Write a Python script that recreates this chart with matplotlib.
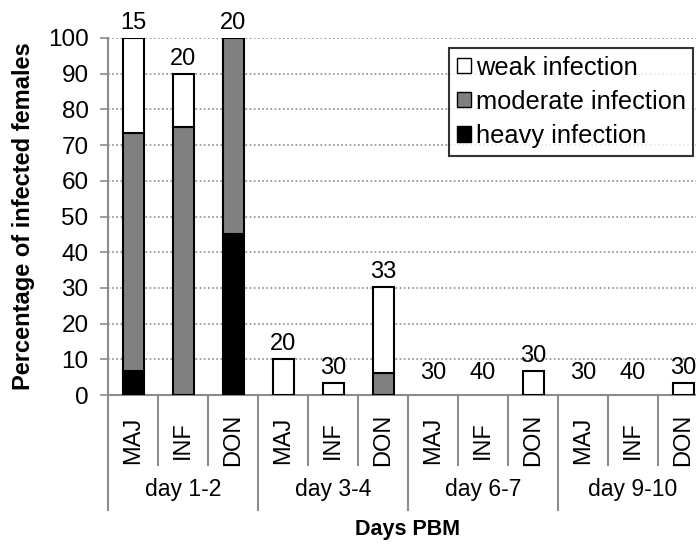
import matplotlib
matplotlib.use("Agg")
import matplotlib.pyplot as plt
from matplotlib.patches import Patch
from matplotlib.transforms import blended_transform_factory
import numpy as np

plt.rcParams['font.family'] = ['Liberation Sans', 'DejaVu Sans']

days = ["day 1-2", "day 3-4", "day 6-7", "day 9-10"]
groups = ["MAJ", "INF", "DON"]
heavy = [6.7, 0, 45, 0, 0, 0, 0, 0, 0, 0, 0, 0]
moderate = [66.6, 75, 55, 0, 0, 6.1, 0, 0, 0, 0, 0, 0]
weak = [26.7, 15, 0, 10, 3.3, 24.2, 0, 0, 6.7, 0, 0, 3.3]
n_labels = ["15", "20", "20", "20", "30", "33", "30", "40", "30", "30", "40", "30"]
yticks = [0, 10, 20, 30, 40, 50, 60, 70, 80, 90, 100]

W, H = 696, 544
fig = plt.figure(figsize=(W / 100, H / 100), dpi=100)
ax = fig.add_axes([108 / W, (H - 395) / H, 600 / W, (395 - 38) / H])

x = np.arange(len(heavy))
heavy_a = np.array(heavy)
mod_a = np.array(moderate)
weak_a = np.array(weak)
tot_a = heavy_a + mod_a + weak_a
bw = 0.42
for i in range(len(x)):
    base = 0.0
    for vals, col in ((heavy_a, "black"), (mod_a, "#808080"), (weak_a, "white")):
        if vals[i] > 0:
            ax.bar(x[i], vals[i], bw, bottom=base, color=col, edgecolor="black",
                   linewidth=1.5, zorder=3)
            base += vals[i]

for i in range(len(x)):
    off = 3 if tot_a[i] > 0 else 8
    ax.annotate(n_labels[i], (x[i], tot_a[i]), xytext=(0, off), textcoords="offset points",
                ha="center", va="bottom", fontsize=17, color="black")

ax.set_xlim(-0.5, len(x) - 0.5)
ax.set_ylim(0, 100)
ax.set_yticks(yticks)
ax.set_yticklabels([str(v) for v in yticks], fontsize=17.5)
ax.yaxis.grid(True, linestyle=(0, (1, 1.5)), color="#8c8c8c", linewidth=1.2, zorder=0)
ax.set_axisbelow(True)
ax.set_xticks([])
for s in ["top", "right"]:
    ax.spines[s].set_visible(False)
for s in ["left", "bottom"]:
    ax.spines[s].set_color("#8c8c8c")
    ax.spines[s].set_linewidth(1.5)
ax.tick_params(axis="y", length=6, width=1.2, color="#8c8c8c", pad=8)

ax.set_ylabel("Percentage of infected females", fontsize=17, fontweight="bold", labelpad=9)

tr = blended_transform_factory(ax.transData, ax.transAxes)
for k in range(len(x) + 1):
    xb = -0.5 + k
    y1 = -0.322 if k % 3 == 0 else -0.196
    ax.plot([xb, xb], [0, y1], color="#8c8c8c", lw=1.5, transform=tr, clip_on=False)
for i in range(len(x)):
    ax.text(x[i], -0.126, groups[i % 3], rotation=90, ha="center", va="center",
            fontsize=17, transform=tr)
for d, day in enumerate(days):
    ax.text(3 * d + 1, -0.266, day, ha="center", va="center", fontsize=16.5, transform=tr)
ax.text(0.5, -0.378, "Days PBM", ha="center", va="center", fontsize=15.5,
        fontweight="bold", transform=ax.transAxes)

handles = [Patch(facecolor="white", edgecolor="black", label="weak infection"),
           Patch(facecolor="#808080", edgecolor="black", label="moderate infection"),
           Patch(facecolor="black", edgecolor="black", label="heavy infection")]
leg = ax.legend(handles=handles, loc="upper left", bbox_to_anchor=((449 - 108) / 600, (395 - 48) / 357),
                fontsize=18.3, frameon=True, fancybox=False, handlelength=0.55, handleheight=0.55,
                handletextpad=0.2, borderpad=0.3, labelspacing=0.4, borderaxespad=0)
leg.get_frame().set_edgecolor("black")
leg.get_frame().set_linewidth(1.5)

fig.savefig("out.png", dpi=100)
